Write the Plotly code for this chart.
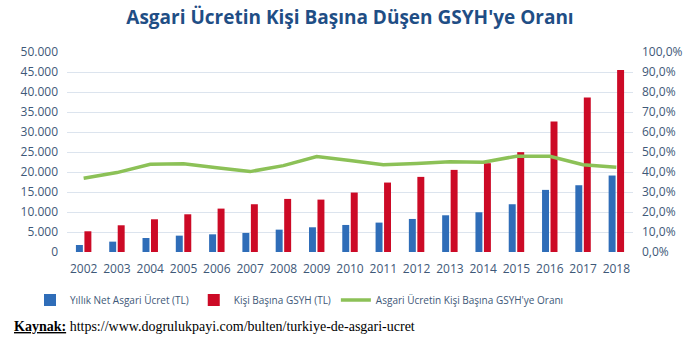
import plotly.graph_objects as go

years = [str(y) for y in range(2002, 2019)]
net_wage = [1750, 2590, 3500, 4090, 4420, 4760, 5590, 6180, 6760, 7350, 8260, 9180, 9930, 11940, 15530, 16690, 19120]
gdp_pc = [5180, 6680, 8180, 9430, 10850, 11940, 13270, 13100, 14860, 17360, 18780, 20530, 22200, 24960, 32640, 38650, 45490]
ratio = [0.369, 0.397, 0.439, 0.441, 0.421, 0.402, 0.432, 0.477, 0.457, 0.436, 0.442, 0.451, 0.449, 0.479, 0.479, 0.436, 0.424]

tick_col = "#3E5878"

fig = go.Figure()
fig.add_trace(go.Bar(x=years, y=net_wage, name="Yıllık Net Asgari Ücret (TL)",
                     marker=dict(color="#2F6DB8", line=dict(width=0))))
fig.add_trace(go.Bar(x=years, y=gdp_pc, name="Kişi Başına GSYH (TL)",
                     marker=dict(color="#CC0A26", line=dict(width=0))))
fig.add_trace(go.Scatter(x=years, y=ratio, name="Asgari Ücretin Kişi Başına GSYH'ye Oranı",
                         mode="lines", line=dict(color="#8CC157", width=3.5), yaxis="y2"))

fig.update_layout(
    width=700, height=348,
    margin=dict(l=67, r=67, t=52, b=96, autoexpand=False),
    paper_bgcolor="white", plot_bgcolor="white",
    separators=",.",
    barmode="group", bargap=0.49, bargroupgap=0.18,
    font=dict(family="Open Sans", color=tick_col, size=12),
    title=dict(text="<b>Asgari Ücretin Kişi Başına Düşen GSYH'ye Oranı</b>",
               x=0.5, xref="paper", y=1 - 17/348, yref="container", yanchor="middle",
               xanchor="center", font=dict(family="Open Sans", size=19, color="#1F4E85")),
    xaxis=dict(showgrid=False, showline=False, ticks="", ticklabelstandoff=8,
               tickfont=dict(size=12, color=tick_col)),
    yaxis=dict(range=[0, 50000], dtick=5000, tickformat=",d", gridcolor="#DCE4EE",
               gridwidth=1, zeroline=False, showline=False, ticks="", ticklen=0,
               ticklabelstandoff=8, tickfont=dict(size=12, color=tick_col)),
    yaxis2=dict(range=[0, 1], dtick=0.1, tickformat=".1%", overlaying="y", side="right",
                showgrid=False, zeroline=False, showline=False, ticklabelstandoff=8,
                tickfont=dict(size=12, color=tick_col)),
    legend=dict(orientation="h", x=(30 - 67) / 566, xanchor="left", y=-(300 - 252) / 200,
                yanchor="middle", font=dict(size=10, color=tick_col, family="Open Sans"),
                itemwidth=30, tracegroupgap=0, traceorder="normal", bgcolor="rgba(0,0,0,0)"),
    annotations=[dict(text="<b><u>Kaynak:</u></b> https://www.dogrulukpayi.com/bulten/turkiye-de-asgari-ucret",
                      xref="paper", yref="paper", x=-(67 - 12) / 566, y=-(326 - 252) / 200,
                      xanchor="left", yanchor="middle", showarrow=False,
                      font=dict(family="Liberation Serif", size=14, color="black"))],
)

fig.write_html("out.html")
